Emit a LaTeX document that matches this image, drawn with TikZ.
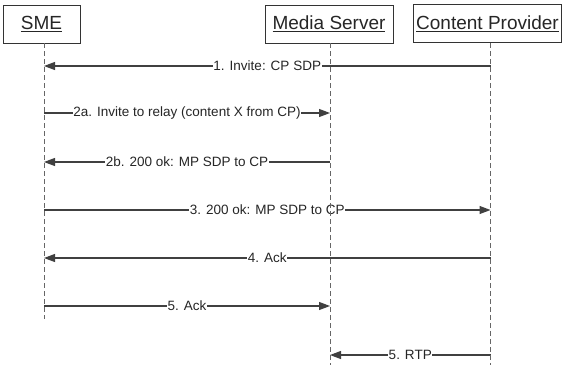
\documentclass[tikz,border=0pt]{standalone}
\usepackage{fontspec}
\setmainfont{Liberation Sans}
\usetikzlibrary{arrows.meta}
\begin{document}
\begin{tikzpicture}[x=1pt,y=-1pt,
  actor/.style={draw=black!80, line width=0.8pt, fill=white, minimum height=38pt, inner sep=0pt, text=black!85, font=\fontsize{19}{21}\selectfont},
  life/.style={draw=black!60, dash pattern=on 5pt off 3pt, line width=0.9pt},
  msg/.style={draw=black!75, line width=1.1pt, -{Triangle[length=11pt,width=8pt]}},
  lbl/.style={fill=white, inner sep=0.5pt, text=black!85, font=\fontsize{13.5}{15}\selectfont}]
\useasboundingbox (0,0) rectangle (563,365);
% actors
\node[actor, minimum width=77pt]  (sme) at (41.5,24) {\underline{SME}};
\node[actor, minimum width=128pt] (ms)  at (329,24)  {\underline{Media Server}};
\node[actor, minimum width=148pt] (cp)  at (487.5,23.5) {\underline{Content Provider}};
% lifeline x positions and ends
\coordinate (lS) at (44,0);
\coordinate (lM) at (330,0);
\coordinate (lC) at (490.5,0);
\coordinate (eS) at (44,319);
\coordinate (eM) at (330,365);
\coordinate (eC) at (490.5,365);
% message rows
\coordinate (r1) at (0,66);
\coordinate (r2) at (0,113);
\coordinate (r3) at (0,162);
\coordinate (r4) at (0,210);
\coordinate (r5) at (0,258);
\coordinate (r6) at (0,306);
\coordinate (r7) at (0,355);
% messages
\draw[msg] (lC |- r1) -- (lS |- r1) node[lbl, midway] {1. Invite: CP SDP};
\draw[msg] (lS |- r2) -- (lM |- r2) node[lbl, midway] {2a. Invite to relay (content X from CP)};
\draw[msg] (lM |- r3) -- (lS |- r3) node[lbl, midway] {2b. 200 ok: MP SDP to CP};
\draw[msg] (lS |- r4) -- (lC |- r4) node[lbl, midway] {3. 200 ok: MP SDP to CP};
\draw[msg] (lC |- r5) -- (lS |- r5) node[lbl, midway] {4. Ack};
\draw[msg] (lS |- r6) -- (lM |- r6) node[lbl, midway] {5. Ack};
\draw[msg] (lC |- r7) -- (lM |- r7) node[lbl, midway] {5. RTP};
% lifelines
\draw[life] (lS |- sme.south) -- (eS);
\draw[life] (lM |- ms.south) -- (eM);
\draw[life] (lC |- cp.south) -- (eC);
\end{tikzpicture}
\end{document}
